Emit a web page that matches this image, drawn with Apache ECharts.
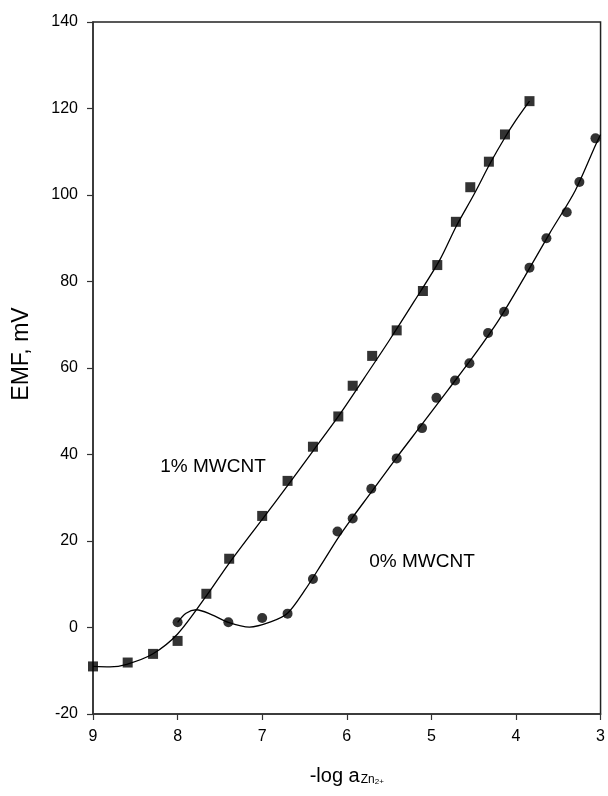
<!DOCTYPE html>
<html><head><meta charset="utf-8">
<script src="https://cdn.jsdelivr.net/npm/echarts@6/dist/echarts.min.js"></script>
<style>html,body{margin:0;padding:0;background:#fff}#c{width:608px;height:796px}</style>
</head><body><div id="c"></div>
<script>
// 1% MWCNT measured points (squares)
const sqX = [9.0, 8.59, 8.29, 8.0, 7.66, 7.39, 7.0, 6.70, 6.40, 6.10, 5.93, 5.70, 5.41, 5.10, 4.93, 4.71, 4.54, 4.32, 4.13, 3.84];
const sqY = [-9.0, -8.1, -6.1, -3.1, 7.8, 15.9, 25.8, 33.9, 41.8, 48.8, 55.9, 62.8, 68.7, 77.8, 83.8, 93.8, 101.8, 107.7, 114.0, 121.7];
// 0% MWCNT measured points (circles)
const ciX = [8.0, 7.40, 7.0, 6.70, 6.40, 6.11, 5.93, 5.71, 5.41, 5.11, 4.94, 4.72, 4.55, 4.33, 4.14, 3.84, 3.64, 3.40, 3.25, 3.06];
const ciY = [1.2, 1.2, 2.2, 3.2, 11.2, 22.2, 25.2, 32.1, 39.1, 46.1, 53.1, 57.1, 61.1, 68.1, 73.0, 83.2, 90.0, 96.0, 103.0, 113.1];
// fitted curves
const sqFitX = [9.0, 8.8, 8.6, 8.3, 8.0, 7.66, 7.4, 7.0, 6.7, 6.4, 6.1, 5.8, 5.5, 5.2, 4.9, 4.7, 4.5, 4.3, 4.13, 4.0, 3.84];
const sqFitY = [-9.0, -9.1, -8.5, -6.2, -1.5, 7.3, 14.6, 25.0, 32.8, 40.8, 48.8, 57.5, 66.3, 75.5, 85.0, 93.0, 100.0, 107.5, 113.3, 117.3, 121.7];
const ciFitX = [8.0, 7.9, 7.78, 7.6, 7.4, 7.15, 6.9, 6.7, 6.5, 6.3, 6.1, 5.93, 5.71, 5.41, 5.11, 4.8, 4.5, 4.2, 3.9, 3.6, 3.3, 3.06, 3.0];
const ciFitY = [1.2, 3.3, 4.1, 3.0, 1.2, 0.1, 1.3, 3.3, 8.5, 14.6, 20.8, 25.5, 31.3, 39.3, 47.0, 55.0, 62.8, 71.2, 81.0, 91.2, 101.0, 111.5, 114.0];
const xTicks = [9, 8, 7, 6, 5, 4, 3];
const yTicks = [-20, 0, 20, 40, 60, 80, 100, 120, 140];
const seriesNames = ['1% MWCNT', '0% MWCNT'];

const zip = (a, b) => a.map((v, i) => [v, b[i]]);
const FONT = 'Liberation Sans, Arial, sans-serif';
const chart = echarts.init(document.getElementById('c'), null, {renderer: 'canvas'});
chart.setOption({
  animation: false,
  backgroundColor: '#fff',
  grid: {left: 93, right: 6, top: 22, bottom: 82, show: true, borderColor: '#222', borderWidth: 1.5, backgroundColor: 'transparent'},
  xAxis: {
    type: 'value', min: xTicks[xTicks.length - 1], max: xTicks[0], interval: 1, inverse: true,
    axisLine: {show: true, onZero: false, lineStyle: {color: '#333', width: 1.5}},
    axisTick: {show: true, inside: false, length: 6, lineStyle: {color: '#333', width: 1.2}},
    axisLabel: {color: '#000', fontSize: 16, fontFamily: FONT, margin: 15},
    splitLine: {show: false},
    name: '{m|-log a}{s|Zn}{p|2+}', nameLocation: 'middle', nameGap: 50,
    nameTextStyle: {rich: {
      m: {fontSize: 20, fontFamily: FONT, color: '#000', verticalAlign: 'bottom'},
      s: {fontSize: 12, fontFamily: FONT, color: '#000', padding: [10, 0, 0, 1], verticalAlign: 'bottom'},
      p: {fontSize: 8, fontFamily: FONT, color: '#000', padding: [0, 0, 0, 0], verticalAlign: 'bottom'}
    }}
  },
  yAxis: {
    type: 'value', min: yTicks[0], max: yTicks[yTicks.length - 1], interval: 20,
    axisLine: {show: true, onZero: false, lineStyle: {color: '#333', width: 1.5}},
    axisTick: {show: true, inside: false, length: 6, lineStyle: {color: '#333', width: 1.2}},
    axisLabel: {color: '#000', fontSize: 16, fontFamily: FONT, margin: 15},
    splitLine: {show: false}
  },
  graphic: [
    {type: 'text', x: 22, y: 354, rotation: Math.PI / 2, style: {text: 'EMF, mV', fontSize: 23, fontFamily: FONT, fill: '#000', textAlign: 'center', textVerticalAlign: 'middle'}},
    {type: 'text', x: 213, y: 467, style: {text: seriesNames[0], fontSize: 19, fontFamily: FONT, fill: '#000', textAlign: 'center', textVerticalAlign: 'middle'}},
    {type: 'text', x: 422, y: 562, style: {text: seriesNames[1], fontSize: 19, fontFamily: FONT, fill: '#000', textAlign: 'center', textVerticalAlign: 'middle'}}
  ],
  series: [
    {type: 'line', name: seriesNames[0] + ' fit', data: zip(sqFitX, sqFitY), smooth: 0.3, showSymbol: false, lineStyle: {color: '#000', width: 1.3}, z: 2},
    {type: 'line', name: seriesNames[1] + ' fit', data: zip(ciFitX, ciFitY), smooth: 0.3, showSymbol: false, lineStyle: {color: '#000', width: 1.3}, z: 2},
    {type: 'scatter', name: seriesNames[0], data: zip(sqX, sqY), symbol: 'rect', symbolSize: 10, itemStyle: {color: '#000'}, z: 3},
    {type: 'scatter', name: seriesNames[1], data: zip(ciX, ciY), symbol: 'circle', symbolSize: 10, itemStyle: {color: '#000'}, z: 3}
  ]
});
</script></body></html>
